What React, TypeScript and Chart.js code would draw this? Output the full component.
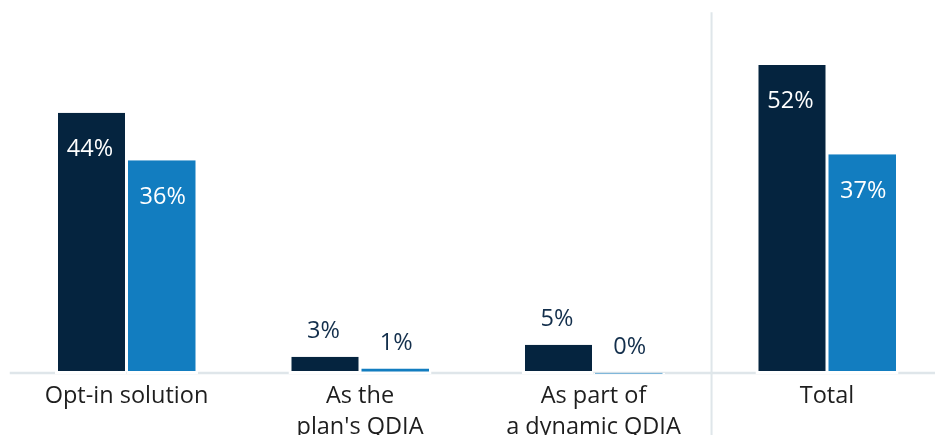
import React, { useEffect, useRef } from "react";
import { Chart, registerables } from "chart.js";

Chart.register(...registerables);

const categories: (string | string[])[] = [
  "Opt-in solution",
  ["As the", "plan's QDIA"],
  ["As part of", "a dynamic QDIA"],
  "Total",
];
const seriesA: number[] = [44, 3, 5, 52];
const seriesB: number[] = [36, 1, 0.3, 37];
const seriesNames: string[] = ["Series A", "Series B"];

const DARK = "#05243f";
const BLUE = "#127dc0";
const GRID = "#dfe6ea";
const FONT = "'Open Sans', 'Noto Sans', sans-serif";

const decorPlugin = {
  id: "decor",
  beforeDatasetsDraw(chart: any) {
    const { ctx, chartArea, scales } = chart;
    const y0 = scales.y.getPixelForValue(0);
    ctx.save();
    ctx.strokeStyle = GRID;
    ctx.lineWidth = 2.3;
    ctx.beginPath();
    ctx.moveTo(chartArea.left, y0 - 1.5);
    ctx.lineTo(chart.width, y0 - 1.5);
    ctx.stroke();
    const xs = scales.x;
    const xSep = (xs.getPixelForTick(2) + xs.getPixelForTick(3)) / 2 + 1.3;
    ctx.lineWidth = 2;
    ctx.beginPath();
    ctx.moveTo(xSep, chartArea.top + 0.8);
    ctx.lineTo(xSep, chart.height);
    ctx.stroke();
    ctx.restore();
  },
  afterDatasetsDraw(chart: any) {
    const { ctx } = chart;
    ctx.save();
    ctx.font = `23.5px ${FONT}`;
    ctx.textAlign = "center";
    ctx.textBaseline = "alphabetic";
    chart.data.datasets.forEach((ds: any, di: number) => {
      const meta = chart.getDatasetMeta(di);
      meta.data.forEach((bar: any, i: number) => {
        const v = ds.data[i] as number;
        const txt = Math.round(v) + "%";
        const cx = bar.x - (di === 0 ? 0.75 : -0.5);
        if (v > 10) {
          ctx.fillStyle = "#ffffff";
          ctx.fillText(txt, cx, bar.y + 43.3);
        } else {
          ctx.fillStyle = "#132f4c";
          ctx.fillText(txt, cx, bar.y - 19);
        }
      });
    });
    ctx.restore();
  },
};

export default function App() {
  const ref = useRef<HTMLCanvasElement | null>(null);
  useEffect(() => {
    if (!ref.current) return;
    const chart = new Chart(ref.current, {
      type: "bar",
      data: {
        labels: categories as any,
        datasets: [
          {
            label: seriesNames[0],
            data: seriesA,
            backgroundColor: DARK,
            borderColor: "#ffffff",
            borderWidth: { top: 0, left: 3, right: 1.5, bottom: 3.5 } as any,
            borderSkipped: false,
            inflateAmount: 0,
          },
          {
            label: seriesNames[1],
            data: seriesB,
            backgroundColor: BLUE,
            borderColor: "#ffffff",
            borderWidth: { top: 0, left: 1.5, right: 2.5, bottom: 3.5 } as any,
            borderSkipped: false,
            inflateAmount: 0,
          },
        ],
      },
      options: {
        responsive: false,
        animation: false,
        layout: { padding: { left: 9.75, right: 6.25, top: 11.5, bottom: 0 } },
        plugins: {
          legend: { display: false },
          tooltip: { enabled: false },
        },
        datasets: {
          bar: { categoryPercentage: 0.6124, barPercentage: 1 },
        } as any,
        scales: {
          x: {
            grid: { display: false, drawTicks: false },
            border: { display: false },
            ticks: {
              color: "#1e1e1e",
              font: { family: FONT, size: 23.5, lineHeight: 1.33 },
              padding: 6,
              maxRotation: 0,
              autoSkip: false,
            },
            afterFit(scale: any) {
              scale.height = 60.5;
            },
          },
          y: {
            display: false,
            min: 0,
            max: 61,
          },
        },
      },
      plugins: [decorPlugin],
    });
    return () => chart.destroy();
  }, []);
  return (
    <div
      style={{
        position: "fixed",
        left: 0,
        top: 0,
        width: 935,
        height: 435,
        overflow: "hidden",
        background: "#fff",
      }}
    >
      <canvas ref={ref} width={950} height={435} style={{ display: "block" }} />
    </div>
  );
}
